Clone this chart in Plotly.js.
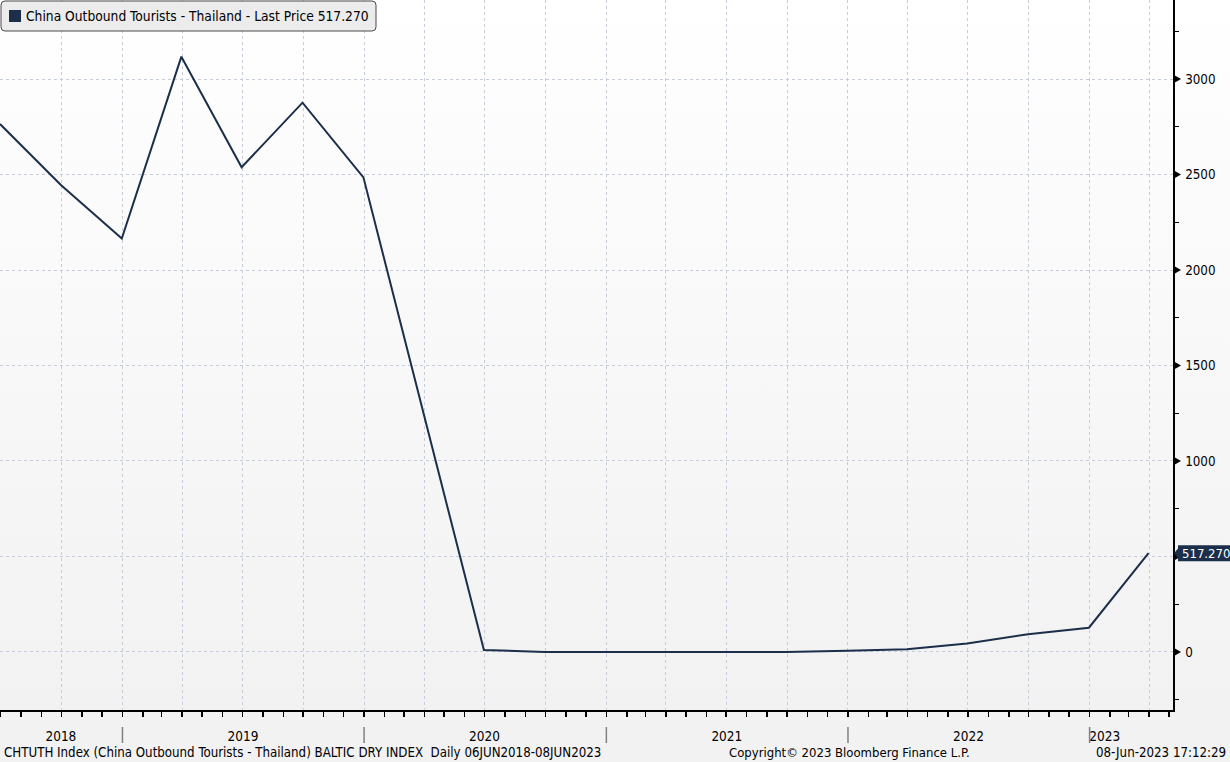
<!DOCTYPE html>
<html>
<head>
<meta charset="utf-8">
<script src="https://cdn.plot.ly/plotly-3.0.1.min.js"></script>
<style>
  html, body { margin:0; padding:0; width:1230px; height:762px; overflow:hidden; }
  #chart { width:1230px; height:762px;
    background: linear-gradient(to bottom, #ffffff 0px, #f9f9f9 300px, #f2f2f2 700px, #f2f2f2 762px); }
</style>
</head>
<body>
<div id="chart"></div>
<script>
// ---- data ----
const dates = ['2018-06-30','2018-09-30','2018-12-31','2019-03-31','2019-06-30','2019-09-30','2019-12-31',
  '2020-03-31','2020-06-30','2020-09-30','2020-12-31','2021-03-31','2021-06-30','2021-09-30','2021-12-31',
  '2022-03-31','2022-06-30','2022-09-30','2022-12-31','2023-03-31'];
const tourists = [2764, 2445, 2165, 3117, 2538, 2876, 2485,
  1250, 10, 0.5, 0.3, 0.3, 0.5, 0.6, 6,
  14, 45, 93, 127, 517.27];
const yTicks = [0, 500, 1000, 1500, 2000, 2500, 3000];
const yearLabels = ['2018','2019','2020','2021','2022','2023'];
const yearLabelDates = ['2018-09-30','2019-07-02','2020-07-01','2021-07-02','2022-07-02','2023-01-24'];
const yearStarts = ['2019-01-01','2020-01-01','2021-01-01','2022-01-01','2023-01-01'];
const legendText = 'China Outbound Tourists - Thailand - Last Price 517.270';
const lastLabel = '517.270';
const footLeft = 'CHTUTH Index (China Outbound Tourists - Thailand) BALTIC DRY INDEX&nbsp;&nbsp;Daily 06JUN2018-08JUN2023';
const footMid = 'Copyright© 2023 Bloomberg Finance L.P.';
const footRight = '08-Jun-2023 17:12:29';

// ---- layout helpers ----
const W = 1173, H = 710;            // plot area in px
const px = v => v / W;              // px -> paper x
const py = v => 1 - v / H;          // px -> paper y
const NAVY = '#1b2f4a';
const FONT = 'DejaVu Sans Condensed, DejaVu Sans, sans-serif';
const lastVal = tourists[tourists.length - 1];
const xRange = ['2018-06-30', '2023-05-07'];

const trace = {
  x: dates, y: tourists, type: 'scatter', mode: 'lines',
  line: {color: NAVY, width: 2}, hoverinfo: 'skip', showlegend: false
};
// invisible helper trace so the year-label axis is drawn
const helper = {
  x: [xRange[0]], y: [0], xaxis: 'x2', type: 'scatter', mode: 'markers',
  marker: {opacity: 0}, hoverinfo: 'skip', showlegend: false
};

const shapes = [];
// year separators
yearStarts.forEach(d => shapes.push({
  type: 'line', xref: 'x', yref: 'paper', x0: d, x1: d, y0: py(727), y1: py(743),
  line: {color: '#808080', width: 1.5}
}));
// tick triangles on right axis
yTicks.forEach(v => shapes.push({
  type: 'path', xref: 'paper', yref: 'y', xsizemode: 'pixel', ysizemode: 'pixel',
  xanchor: 1, yanchor: v, path: 'M1,-4 L1,4 L8,0 Z',
  fillcolor: '#000', line: {width: 0}
}));
// last price tag (arrow + box)
shapes.push({
  type: 'path', xref: 'paper', yref: 'y', xsizemode: 'pixel', ysizemode: 'pixel',
  xanchor: 1, yanchor: lastVal, path: 'M1,0 L6,-6 L6,6 Z',
  fillcolor: NAVY, line: {width: 0}
});
shapes.push({
  type: 'rect', xref: 'paper', yref: 'y', xsizemode: 'pixel', ysizemode: 'pixel',
  xanchor: 1, yanchor: lastVal, x0: 5, x1: 60, y0: -8, y1: 8,
  fillcolor: NAVY, line: {width: 0}
});
// legend box with rounded corners
(function(){
  const x0 = px(1), x1 = px(376), y0 = py(1), y1 = py(31);
  const rx = px(4), ry = 4 / H;
  shapes.push({
    type: 'path', xref: 'paper', yref: 'paper',
    path: `M${x0+rx},${y0} L${x1-rx},${y0} Q${x1},${y0} ${x1},${y0-ry} L${x1},${y1+ry} Q${x1},${y1} ${x1-rx},${y1} L${x0+rx},${y1} Q${x0},${y1} ${x0},${y1+ry} L${x0},${y0-ry} Q${x0},${y0} ${x0+rx},${y0} Z`,
    fillcolor: '#ececec', line: {color: '#4a4a4a', width: 1}
  });
  shapes.push({
    type: 'rect', xref: 'paper', yref: 'paper',
    x0: px(9), x1: px(21), y0: py(10), y1: py(22),
    fillcolor: NAVY, line: {width: 0}
  });
})();

const annotations = [];
annotations.push({
  xref: 'paper', yref: 'paper', x: px(24), y: py(16), xanchor: 'left', yanchor: 'middle',
  text: legendText, showarrow: false, font: {family: FONT, size: 13.7, color: '#000'}
});
annotations.push({
  xref: 'paper', yref: 'y', x: px(1180), y: lastVal, xanchor: 'left', yanchor: 'middle',
  text: lastLabel, showarrow: false,
  font: {family: FONT, size: 13, color: '#ffffff'}
});
annotations.push({
  xref: 'paper', yref: 'paper', x: px(2), y: py(752), xanchor: 'left', yanchor: 'middle',
  text: footLeft, showarrow: false, font: {family: FONT, size: 13.2, color: '#000'}
});
annotations.push({
  xref: 'paper', yref: 'paper', x: px(849), y: py(752), xanchor: 'center', yanchor: 'middle',
  text: footMid, showarrow: false, font: {family: FONT, size: 13, color: '#000'}
});
annotations.push({
  xref: 'paper', yref: 'paper', x: px(1228), y: py(752), xanchor: 'right', yanchor: 'middle',
  text: footRight, showarrow: false, font: {family: FONT, size: 13.2, color: '#000'}
});

const layout = {
  width: 1230, height: 762,
  margin: {l: 0, r: 57, t: 0, b: 52, pad: 0},
  paper_bgcolor: 'rgba(0,0,0,0)', plot_bgcolor: 'rgba(0,0,0,0)',
  showlegend: false,
  font: {family: FONT, size: 13, color: '#000'},
  xaxis: {
    type: 'date', range: xRange,
    tick0: '2018-01-01', dtick: 'M3',
    showticklabels: false, ticks: 'outside', ticklen: 5, tickwidth: 1.5, tickcolor: '#000',
    showgrid: true, gridcolor: '#c6ccd8', griddash: '3px,3px', gridwidth: 1,
    minor: {dtick: 'M1', ticks: 'outside', ticklen: 5, tickwidth: 1.5, tickcolor: '#000', showgrid: false},
    showline: true, linecolor: '#000', linewidth: 2, zeroline: false, fixedrange: true
  },
  xaxis2: {
    type: 'date', range: xRange, overlaying: 'x', anchor: 'y', side: 'bottom',
    tickmode: 'array', tickvals: yearLabelDates, ticktext: yearLabels,
    ticks: 'outside', ticklen: 14, tickcolor: 'rgba(0,0,0,0)',
    tickfont: {family: FONT, size: 13.5, color: '#000'},
    showgrid: false, showline: false, zeroline: false, fixedrange: true
  },
  yaxis: {
    side: 'right', range: [-303.7, 3413.6],
    tickvals: yTicks, ticktext: yTicks.map(String),
    ticks: 'outside', ticklen: 8, tickcolor: 'rgba(0,0,0,0)',
    tickfont: {family: FONT, size: 13.3, color: '#000'},
    showgrid: true, gridcolor: '#c6ccd8', griddash: '3px,3px', gridwidth: 1,
    minor: {dtick: 250, tick0: 0, ticks: 'outside', ticklen: 4, tickwidth: 1, tickcolor: '#000', showgrid: false},
    showline: true, linecolor: '#000', linewidth: 1.5, zeroline: false, fixedrange: true
  },
  shapes: shapes,
  annotations: annotations
};

Plotly.newPlot('chart', [trace, helper], layout, {displayModeBar: false, staticPlot: true});
</script>
</body>
</html>
